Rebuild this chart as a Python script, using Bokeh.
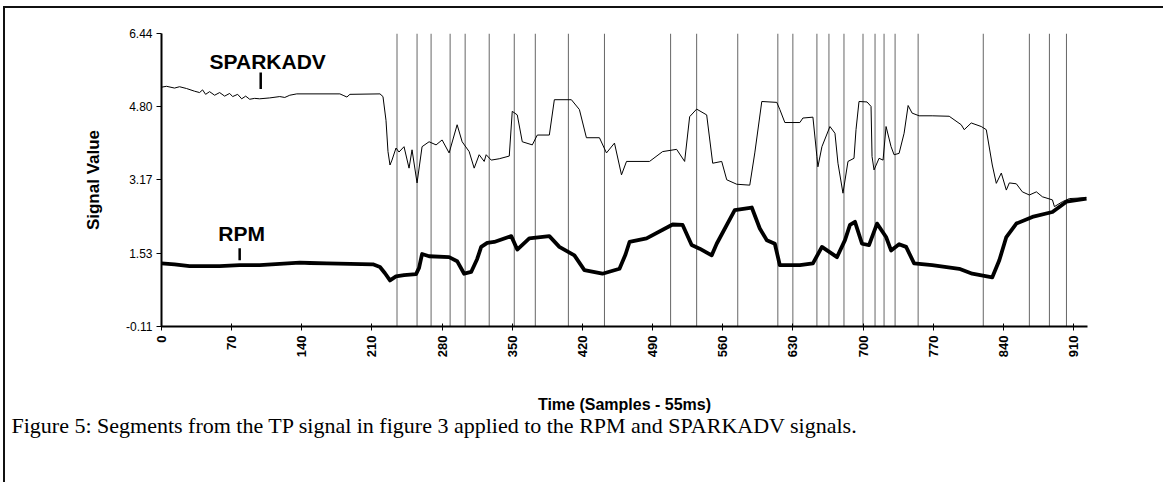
from bokeh.plotting import figure
from bokeh.layouts import column
from bokeh.models import Range1d, FixedTicker, PrintfTickFormatter, Title, Label
from bokeh.embed import file_html
from bokeh.resources import INLINE
import math

# ---- data ----
spark_x = [0, 5, 13, 18, 25, 33, 38, 41, 44, 48, 53, 58, 63, 68, 71, 76, 80, 84, 88, 93, 98,
           108, 118, 123, 128, 135, 178, 182, 185, 188, 218, 221, 224, 226, 228, 230, 234, 237,
           242, 247, 250, 255, 260, 267, 274, 280, 287, 295, 300, 307, 312, 317, 322, 324, 329,
           337, 347, 350, 355, 360, 370, 375, 387, 392, 409, 417, 424, 437, 444, 452, 459, 464,
           487, 500, 514, 522, 527, 534, 544, 550, 559, 564, 574, 587, 592, 599, 614, 617, 622,
           637, 640, 650, 654, 655, 659, 667, 672, 675, 680, 685, 691, 693, 696, 704, 708, 709,
           711, 716, 720, 723, 728, 731, 736, 741, 745, 749, 756, 769, 786, 798, 801, 808, 818,
           823, 829, 833, 838, 843, 846, 853, 859, 866, 873, 879, 889, 891, 899, 906, 923]
spark_y = [5.24, 5.26, 5.22, 5.25, 5.21, 5.15, 5.12, 5.18, 5.08, 5.14, 5.06, 5.12, 5.04, 5.10,
           5.03, 5.08, 4.98, 5.04, 4.97, 4.99, 4.98, 5.00, 5.03, 5.01, 5.06, 5.09, 5.09, 5.05,
           5.02, 5.08, 5.09, 5.03, 4.50, 3.80, 3.50, 3.61, 3.88, 3.79, 3.91, 3.43, 3.84, 3.10,
           3.91, 4.02, 3.95, 4.06, 3.77, 4.40, 4.02, 3.80, 3.43, 3.73, 3.58, 3.73, 3.61, 3.64,
           3.70, 4.70, 4.62, 4.02, 3.95, 4.17, 4.17, 4.96, 4.96, 4.74, 4.11, 4.11, 3.77, 3.99,
           3.28, 3.58, 3.58, 3.80, 3.85, 3.58, 4.58, 4.75, 4.62, 3.54, 3.58, 3.17, 3.07, 3.05,
           3.77, 4.92, 4.90, 4.74, 4.45, 4.45, 4.55, 4.57, 3.69, 3.46, 3.91, 4.36, 4.21, 3.54,
           2.87, 3.58, 3.65, 4.29, 4.92, 4.91, 4.81, 3.69, 3.39, 3.65, 3.61, 4.36, 3.91, 3.73,
           3.76, 4.21, 4.83, 4.66, 4.60, 4.60, 4.59, 4.40, 4.29, 4.44, 4.36, 4.29, 3.50, 3.09,
           3.32, 2.94, 3.10, 3.08, 2.90, 2.83, 2.90, 2.79, 2.72, 2.57, 2.68, 2.75, 2.77]

rpm_x = [0, 13, 28, 58, 78, 98, 118, 138, 148, 165, 188, 211, 218, 223, 228, 234, 242, 254, 257,
         260, 267, 287, 295, 302, 309, 315, 319, 325, 332, 349, 355, 367, 387, 397, 412, 422,
         440, 457, 463, 467, 484, 510, 520, 529, 537, 549, 554, 572, 589, 597, 604, 612, 617,
         637, 650, 659, 674, 682, 687, 692, 699, 706, 714, 723, 728, 736, 743, 751, 769, 796,
         809, 829, 836, 843, 853, 869, 889, 903, 923]
rpm_y = [1.30, 1.28, 1.24, 1.24, 1.26, 1.26, 1.29, 1.32, 1.31, 1.30, 1.29, 1.28, 1.22, 1.08,
         0.92, 1.01, 1.04, 1.06, 1.20, 1.51, 1.46, 1.44, 1.35, 1.07, 1.11, 1.40, 1.67, 1.76,
         1.78, 1.91, 1.61, 1.86, 1.91, 1.67, 1.48, 1.15, 1.07, 1.18, 1.50, 1.78, 1.86, 2.17,
         2.16, 1.71, 1.63, 1.48, 1.74, 2.49, 2.55, 2.08, 1.82, 1.74, 1.26, 1.26, 1.30, 1.67,
         1.44, 1.82, 2.16, 2.23, 1.74, 1.71, 2.19, 1.89, 1.59, 1.73, 1.67, 1.30, 1.26, 1.18,
         1.07, 0.99, 1.37, 1.89, 2.19, 2.34, 2.45, 2.68, 2.75]

segment_bounds = [235, 255, 269, 288, 303, 327, 352, 373, 406, 442, 508, 534, 575, 615, 630,
                  654, 666, 681, 700, 712, 721, 732, 755, 820, 866, 886, 903]

x_ticks = [0, 70, 140, 210, 280, 350, 420, 490, 560, 630, 700, 770, 840, 910]
y_ticks = [-0.11, 1.53, 3.17, 4.80, 6.44]
x_min, x_max = 0, 924

series_names = ["SPARKADV", "RPM"]
name_pos_x = [106, 80]
name_pos_y = [6.08, 2.23]
pointer_x = [99, 78]
pointer_top = [5.57, 1.64]
pointer_bottom = [5.20, 1.37]

caption = "Figure 5: Segments from the TP signal in figure 3 applied to the RPM and SPARKADV signals."

# ---- figure ----
p = figure(frame_width=926, frame_height=293,
           x_range=Range1d(x_min, x_max), y_range=Range1d(y_ticks[0], y_ticks[-1]),
           output_backend="svg", toolbar_location=None,
           min_border_left=156, min_border_top=25, min_border_right=76, min_border_bottom=156)
p.outline_line_color = None
p.xgrid.visible = False
p.ygrid.visible = False
p.background_fill_color = "white"
p.border_fill_color = "white"

# segment lines
p.segment(x0=segment_bounds, x1=segment_bounds,
          y0=[y_ticks[-1]] * len(segment_bounds), y1=[y_ticks[0]] * len(segment_bounds),
          line_color="#666666", line_width=1)

p.line(spark_x, spark_y, line_color="black", line_width=1)
p.line(rpm_x, rpm_y, line_color="black", line_width=3.8, line_join="round")

# name labels and pointers
for nm, lx, ly in zip(series_names, name_pos_x, name_pos_y):
    p.add_layout(Label(x=lx, y=ly, text=nm, text_align="center", text_baseline="top",
                       text_font="Liberation Sans", text_font_style="bold",
                       text_font_size="21px", text_color="black"))
p.segment(x0=pointer_x, x1=pointer_x, y0=pointer_top, y1=pointer_bottom,
          line_color="black", line_width=2.5)

# axes
xa = p.xaxis[0]
xa.ticker = FixedTicker(ticks=x_ticks)
xa.major_label_orientation = math.pi / 2
xa.major_label_text_font = "Liberation Sans"
xa.major_label_text_font_style = "bold"
xa.major_label_text_font_size = "13px"
xa.major_label_text_color = "black"
xa.major_label_standoff = 5
xa.major_tick_in = 3
xa.major_tick_out = 4
xa.major_tick_line_color = "black"
xa.minor_tick_line_color = None
xa.axis_line_width = 2
xa.axis_line_color = "black"
xa.axis_label = "Time (Samples - 55ms)"
xa.axis_label_text_font = "Liberation Sans"
xa.axis_label_text_font_style = "bold"
xa.axis_label_text_font_size = "16px"
xa.axis_label_text_color = "black"
xa.axis_label_standoff = 36

ya = p.yaxis[0]
ya.ticker = FixedTicker(ticks=y_ticks)
ya.formatter = PrintfTickFormatter(format="%.2f")
ya.major_label_text_font = "Liberation Sans"
ya.major_label_text_font_size = "12px"
ya.major_label_text_color = "black"
ya.major_label_standoff = 4
ya.major_tick_in = 0
ya.major_tick_out = 5
ya.major_tick_line_color = "black"
ya.minor_tick_line_color = None
ya.axis_line_width = 2
ya.axis_line_color = "black"
ya.axis_label = "Signal Value"
ya.axis_label_text_font = "Liberation Sans"
ya.axis_label_text_font_style = "bold"
ya.axis_label_text_font_size = "17px"
ya.axis_label_text_color = "black"
ya.axis_label_standoff = 20

p.add_layout(Title(text=caption, text_font="Liberation Serif", text_font_size="22px",
                   text_font_style="normal", text_color="black", align="left",
                   offset=-150, standoff=-11), "below")

layout = column(p, styles={"border-top": "2px solid #111", "border-left": "2px solid #111",
                           "margin-left": "3px", "margin-top": "6px"})

open("out.html", "w").write(file_html(layout, INLINE))
